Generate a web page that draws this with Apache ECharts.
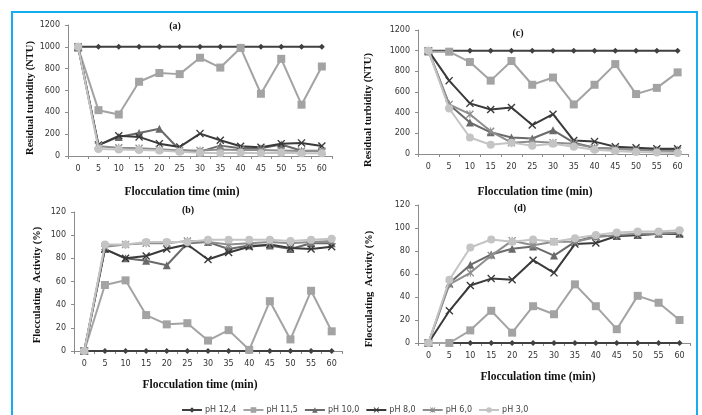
<!DOCTYPE html>
<html><head><meta charset="utf-8">
<script src="https://cdn.jsdelivr.net/npm/echarts@6/dist/echarts.min.js"></script>
<style>html,body{margin:0;padding:0;background:#fff}#c{width:702px;height:415px}</style>
</head><body><div id="c"></div>
<script>
const times = ['0','5','10','15','20','25','30','35','40','45','50','55','60'];
const seriesNames = ['pH 12,4','pH 11,5','pH 10,0','pH 8,0','pH 6,0','pH 3,0'];

// Panel (a) residual turbidity
const a_ph124 = [1000,1000,1000,1000,1000,1000,1000,1000,1000,1000,1000,1000,1000];
const a_ph115 = [990,420,380,680,760,750,900,810,990,570,890,470,820];
const a_ph100 = [1000,100,175,210,250,55,40,95,70,70,105,48,48];
const a_ph80  = [1000,100,185,175,113,83,205,144,89,80,113,120,92];
const a_ph60  = [1000,90,75,70,62,50,50,60,55,55,50,45,45];
const a_ph30  = [1000,65,60,55,50,40,30,25,30,25,30,25,25];

// Panel (b) flocculating activity
const b_ph124 = [0,0,0,0,0,0,0,0,0,0,0,0,0];
const b_ph115 = [0,57,61,31,23,24,9,18,1,43,10,52,17];
const b_ph100 = [0,88,80,78,74,93,94,88,91,91,88,93,93];
const b_ph80  = [0,88,80,82,88,92,79,85,90,92,89,88,90];
const b_ph60  = [0,90,92,93,93,95,94,92,93,94,93,94,95];
const b_ph30  = [0,92,92,94,94,94,96,96,96,96,95,96,97];

// Panel (c) residual turbidity
const c_ph124 = [1000,1000,1000,1000,1000,1000,1000,1000,1000,1000,1000,1000,1000];
const c_ph115 = [990,990,890,710,900,670,740,480,670,870,580,640,790];
const c_ph100 = [1000,480,305,210,160,150,230,110,60,50,40,40,40];
const c_ph80  = [1000,710,490,430,450,280,385,130,120,70,60,50,50];
const c_ph60  = [1000,480,385,220,110,120,110,100,60,50,40,30,30];
const c_ph30  = [1000,440,160,90,110,80,100,70,40,30,20,15,10];

// Panel (d) flocculating activity
const d_ph124 = [0,0,0,0,0,0,0,0,0,0,0,0,0];
const d_ph115 = [0,0,11,28,9,32,25,51,32,12,41,35,20];
const d_ph100 = [0,52,68,77,82,84,76,88,93,93,94,95,95];
const d_ph80  = [0,28,50,56,55,72,61,86,87,93,94,95,95];
const d_ph60  = [0,51,61,76,89,85,88,88,92,94,95,95,96];
const d_ph30  = [0,55,83,90,88,90,88,91,94,96,97,97,98];

const turbTicks = {min:0, max:1200, interval:200};
const actTicks = {min:0, max:120, interval:20};

const X_PATH = 'path://M0,1.2L1.2,0L5,3.8L8.8,0L10,1.2L6.2,5L10,8.8L8.8,10L5,6.2L1.2,10L0,8.8L3.8,5Z';
const STAR_PATH = 'path://M0,1.2L1.2,0L5,3.8L8.8,0L10,1.2L6.2,5L10,8.8L8.8,10L5,6.2L1.2,10L0,8.8L3.8,5Z M4.4,0L5.6,0L5.6,10L4.4,10Z';

const styles = [
  {color:'#404040', symbol:'diamond', size:6},
  {color:'#a3a3a3', symbol:'rect', size:8},
  {color:'#6a6a6a', symbol:'triangle', size:8},
  {color:'#3a3a3a', symbol:X_PATH, size:8},
  {color:'#8e8e8e', symbol:STAR_PATH, size:8},
  {color:'#c4c4c4', symbol:'circle', size:8}
];

const panels = [
  {data:[a_ph124,a_ph115,a_ph100,a_ph80,a_ph60,a_ph30], ticks:turbTicks, grid:{left:68, width:264, top:25, height:131}},
  {data:[b_ph124,b_ph115,b_ph100,b_ph80,b_ph60,b_ph30], ticks:actTicks, grid:{left:74, width:268, top:212, height:139}},
  {data:[c_ph124,c_ph115,c_ph100,c_ph80,c_ph60,c_ph30], ticks:turbTicks, grid:{left:418, width:270, top:30, height:124}},
  {data:[d_ph124,d_ph115,d_ph100,d_ph80,d_ph60,d_ph30], ticks:actTicks, grid:{left:418, width:272, top:205, height:138}}
];

const axisColor = '#8c8c8c';
const grids = [], xAxes = [], yAxes = [], series = [];
panels.forEach((p, i) => {
  grids.push(p.grid);
  xAxes.push({type:'category', gridIndex:i, data:times, boundaryGap:true,
    axisLine:{lineStyle:{color:axisColor}}, axisTick:{show:true, length:3, lineStyle:{color:axisColor}},
    axisLabel:{fontSize:8, color:'#333', fontFamily:'DejaVu Sans', margin:9}, splitLine:{show:false}});
  yAxes.push({type:'value', gridIndex:i, min:p.ticks.min, max:p.ticks.max, interval:p.ticks.interval,
    axisLine:{show:true, lineStyle:{color:axisColor}}, axisTick:{show:true, length:3, lineStyle:{color:axisColor}},
    axisLabel:{fontSize:8, color:'#333', fontFamily:'DejaVu Sans', margin:8, formatter:(v)=>String(v)}, splitLine:{show:false}});
  p.data.forEach((d, k) => {
    const s = styles[k];
    series.push({type:'line', name:seriesNames[k], xAxisIndex:i, yAxisIndex:i, data:d,
      symbol:s.symbol, symbolSize:s.size, showAllSymbol:true,
      lineStyle:{color:s.color, width:2}, itemStyle:{color:s.color}, animation:false, z:2+k});
  });
});

const serif = 'Liberation Serif';
function txt(x, y, t, size, rot) {
  return {type:'text', x:x, y:y, rotation:rot||0,
    style:{text:t, font:'bold '+size+'px "'+serif+'"', fill:'#111', textAlign:'center', textVerticalAlign:'middle'}};
}

const option = {
  animation:false,
  backgroundColor:'#fff',
  grid:grids, xAxis:xAxes, yAxis:yAxes, series:series,
  legend:{data:seriesNames, left:176, top:401, itemWidth:20, itemHeight:7, itemGap:6,
    textStyle:{fontSize:8, color:'#444', fontFamily:'DejaVu Sans', padding:[0,0,0,-2]}},
  graphic:[
    {type:'rect', shape:{x:12, y:12, width:685, height:420}, style:{fill:null, stroke:'#14adef', lineWidth:2}, silent:true},
    txt(175, 26, '(a)', 10), txt(518, 33, '(c)', 10), txt(188, 210, '(b)', 10), txt(520, 208, '(d)', 10),
    txt(182, 192, 'Flocculation time (min)', 11.5),
    txt(535, 192, 'Flocculation time (min)', 11.5),
    txt(200, 385, 'Flocculation time (min)', 11.5),
    txt(538, 377, 'Flocculation time (min)', 11.5),
    txt(30, 98, 'Residual turbidity (NTU)', 10.5, Math.PI/2),
    txt(368, 110, 'Residual turbidity (NTU)', 10.5, Math.PI/2),
    txt(37, 285, 'Flocculating  Activity (%)', 10.5, Math.PI/2),
    txt(369, 289, 'Flocculating  Activity (%)', 10.5, Math.PI/2)
  ]
};
const chart = echarts.init(document.getElementById('c'), null, {renderer:'canvas'});
chart.setOption(option);
</script></body></html>
